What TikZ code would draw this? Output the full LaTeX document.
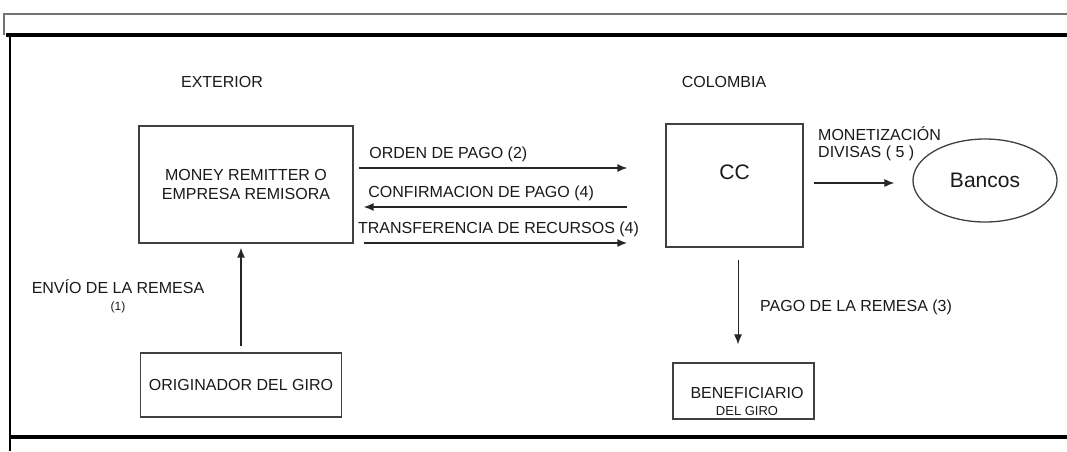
\documentclass[tikz,border=0pt]{standalone}
\usepackage{fontspec}
\setmainfont{Liberation Sans}
\usetikzlibrary{arrows.meta,positioning,shapes.geometric}

\begin{document}
\begin{tikzpicture}[x=1pt, y=-1pt,
  font=\fontsize{16}{17}\selectfont, >={Latex[length=10pt,width=8pt]},
  box/.style={draw=black!75, line width=1.3pt, inner sep=0pt, align=center, text=black!90},
  lbl/.style={inner sep=2pt, text=black!90},
  arr/.style={->, line width=1.4pt, draw=black!85}]
\useasboundingbox (0,0) rectangle (1067,451);
% frame
\draw[black!55, line width=1.8pt] (4,35) -- (4,14) -- (1067,14);
\draw[black, line width=3.2pt] (6,35) -- (1067,35);
\draw[black, line width=2.6pt] (10,35) -- (10,451);
\draw[black, line width=3.2pt] (10,437) -- (1067,437);
% headings
\node[lbl] (ext) at (222,82) {EXTERIOR};
\node[lbl] (col) at (724,82) {COLOMBIA};
% boxes
\node[box, minimum width=214pt, minimum height=117pt] (remit) at (246,184.5) {MONEY REMITTER O\\[2pt]EMPRESA REMISORA};
\node[box, minimum width=137pt, minimum height=123pt, font=\fontsize{21}{24}\selectfont,
  text height=15pt, text depth=27pt] (cc) at (734.5,185.5) {CC};
\node[box, ellipse, minimum width=144pt, minimum height=83pt, font=\fontsize{21}{24}\selectfont] (bancos) at (985,180.5) {Bancos};
\node[box, minimum width=201pt, minimum height=64pt] (orig) at (241,385) {ORIGINADOR DEL GIRO};
\node[box, minimum width=141pt, minimum height=56pt] (benef) at (743.5,391) {};
\node[lbl, align=center] (beneftxt) at (747,401) {BENEFICIARIO\\{\fontsize{13}{15}\selectfont DEL GIRO}};
% flows
\draw[arr, shorten <=5pt, shorten >=38pt] (remit.east |- 0,168) -- node[lbl, above right, pos=0, xshift=13pt, yshift=3pt]{ORDEN DE PAGO (2)} (cc.west |- 0,168);
\draw[arr, shorten <=38pt, shorten >=10pt] (cc.west |- 0,207) -- node[lbl, above right, pos=1, xshift=12pt, yshift=3pt]{CONFIRMACION DE PAGO (4)} (remit.east |- 0,207);
\draw[arr, line width=1.8pt, shorten <=10pt, shorten >=38pt] (remit.east |- 0,243) -- node[lbl, above, xshift=-11pt, yshift=3pt]{TRANSFERENCIA DE RECURSOS (4)} (cc.west |- 0,243);
\draw[arr, shorten <=6pt, shorten >=4pt] (orig.north) -- (orig.north |- remit.south);
\node[lbl, align=center] (envio) at (118,296) {ENVÍO DE LA REMESA\\{\fontsize{12}{14}\selectfont (1)}};
\draw[arr, line width=1.2pt, shorten <=10pt, shorten >=18pt] (cc.east |- 0,183) -- (bancos.west |- 0,183);
\node[lbl, anchor=west, align=left] (monet) at (816,143.5) {MONETIZACIÓN\\DIVISAS ( 5 )};
\coordinate (pagoTop) at (738,260);
\draw[arr, line width=1pt, shorten >=18pt] (pagoTop) -- (pagoTop |- benef.north);
\node[lbl, anchor=west] (pago) at (758,307) {PAGO DE LA REMESA (3)};
\end{tikzpicture}
\end{document}
